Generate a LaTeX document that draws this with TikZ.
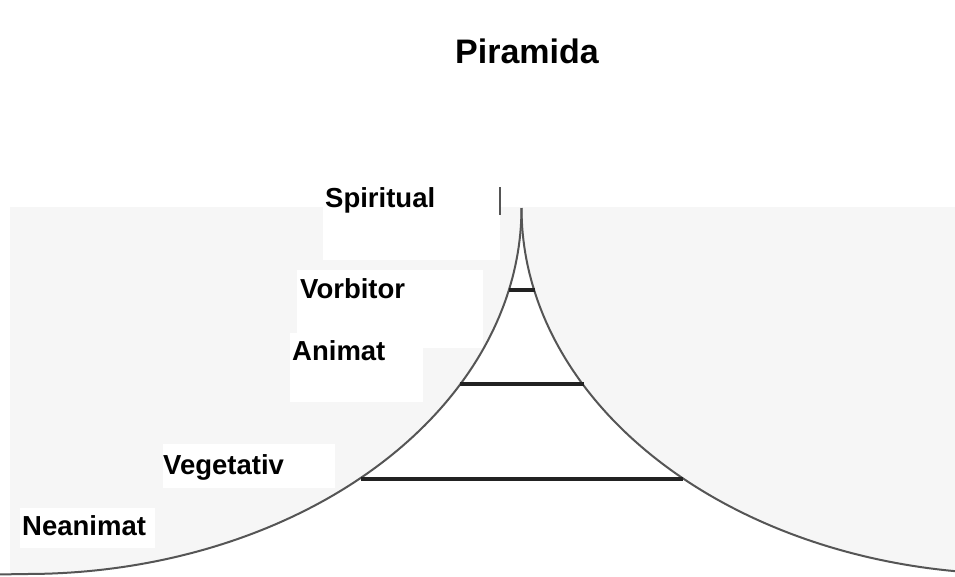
\documentclass[tikz,border=0pt]{standalone}
\usepackage{fontspec}
\setmainfont{Liberation Sans}
\definecolor{bggray}{HTML}{F6F6F6}
\definecolor{curvegray}{HTML}{555555}
\definecolor{bardark}{HTML}{222222}
\tikzset{
  lbl/.style={anchor=base west, inner sep=0pt, font=\bfseries\fontsize{27.5}{30}\selectfont},
  ttl/.style={anchor=base west, inner sep=0pt, font=\bfseries\fontsize{34}{40}\selectfont},
  whitebox/.style={fill=white, draw=none},
  curve/.style={draw=curvegray, line width=2pt},
  levelbar/.style={draw=bardark, line width=4pt},
}
\begin{document}
\begin{tikzpicture}[x=1pt,y=-1pt]
\useasboundingbox (0,0) rectangle (955,576);
\fill[white] (0,0) rectangle (955,576);
% grey background
\fill[bggray] (10,207) rectangle (955,576);
% pyramid interior (two quarter ellipses meeting at the apex)
\fill[white] (-5,574.5) -- plot[domain=90:0, samples=90] ({26.5+495*cos(\x)}, {208+366*sin(\x)})
  -- plot[domain=0:90, samples=90] ({1016.5-495*cos(\x)}, {208+366*sin(\x)})
  -- (1016.5,580) -- (-5,580) -- cycle;
% label boxes
\fill[whitebox] (323,175) rectangle (500,260);
\fill[whitebox] (297,270) rectangle (483,348);
\fill[whitebox] (290,333) rectangle (423,402);
\fill[whitebox] (163,444) rectangle (335,488);
\fill[whitebox] (20,508) rectangle (155,548);
\draw[curvegray, line width=1.2pt] (500,187) -- (500,215);
% curves
\draw[curve] (-5,574.5) -- plot[domain=90:0, samples=90] ({26.5+495*cos(\x)}, {208+366*sin(\x)});
\draw[curve] plot[domain=0:90, samples=90] ({1016.5-495*cos(\x)}, {208+366*sin(\x)});
% level bars
\draw[levelbar] (509,290) -- (534.5,290);
\draw[levelbar] (459.5,384) -- (583.5,384);
\draw[levelbar] (360.5,479) -- (682.5,479);
% texts
\node[ttl] (title) at (455,63) {Piramida};
\node[lbl] (spiritual) at (325,207) {Spiritual};
\node[lbl] (vorbitor) at (300,298) {Vorbitor};
\node[lbl] (animat) at (292,360) {Animat};
\node[lbl] (vegetativ) at (163,474) {Vegetativ};
\node[lbl] (neanimat) at (22,535) {Neanimat};
\end{tikzpicture}
\end{document}
